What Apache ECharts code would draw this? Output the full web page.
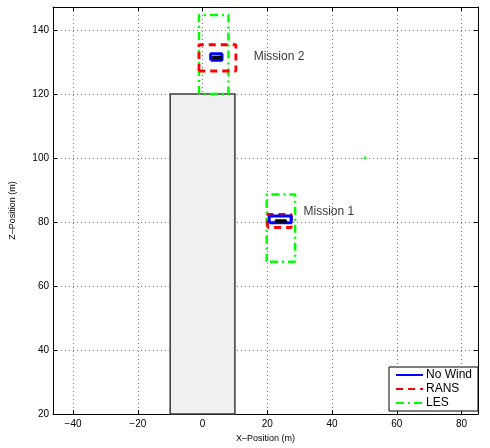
<!DOCTYPE html>
<html>
<head>
<meta charset="utf-8">
<script src="https://cdn.jsdelivr.net/npm/echarts@6/dist/echarts.min.js"></script>
<style>
  html, body { margin: 0; padding: 0; background: #fff; }
  #chart { width: 490px; height: 448px; }
</style>
</head>
<body>
<div id="chart"></div>
<script>
// Axis extents (m)
const xRange = [-46.2, 85.1];
const yRange = [20, 147.2];
const tickStep = 20;

// Building footprint: [xMin, xMax, zMin, zMax]
const building = [-10, 10, 20, 120];

// Mission envelopes per model: [xMin, xMax, zMin, zMax]
const noWindBoxes = [[2.5, 6.0, 130.6, 132.6], [20.6, 27.4, 79.8, 81.9]];
const ransBoxes = [[-1.1, 10.3, 127.2, 135.4], [20.1, 27.4, 78.3, 82.4]];
const lesBoxes = [[-1.1, 8.0, 120, 144.7], [19.8, 28.6, 67.6, 88.6]];

// Vehicle paths inside the no-wind envelopes: [[x0, z0], [x1, z1]]
const vehiclePaths = [[[3.4, 131.4], [5.6, 131.4]], [[22.8, 80.3], [25.6, 80.3]]];

// Isolated LES sample point
const lesPoint = [[50.2, 100]];

// Mission annotations
const missionNames = ['Mission 2', 'Mission 1'];
const missionAnchors = [[15.8, 131.7], [31.2, 83.2]];

const legendNames = ['No Wind', 'RANS', 'LES'];

function boxPath(b) {
  return [[b[0], b[2]], [b[0], b[3]], [b[1], b[3]], [b[1], b[2]], [b[0], b[2]]];
}

const minus = v => String(v).replace('-', '\u2212');
const font = 'Liberation Sans, Arial, Helvetica, sans-serif';

const gridLine = { show: true, lineStyle: { color: '#777', type: [1, 3], width: 1 } };
const axisLine = { show: true, onZero: false, lineStyle: { color: '#000', width: 1 } };
const tick = { show: true, inside: true, length: 4, lineStyle: { color: '#000' } };

function boxSeries(name, boxes, color, width, type) {
  return boxes.map(b => ({
    type: 'line', name: name, data: boxPath(b), symbol: 'none', silent: true,
    lineStyle: { color: color, width: width, type: type }, itemStyle: { color: color },
    animation: false, z: 3
  }));
}

const series = [];

series.push({
  type: 'custom', name: 'building', silent: true, animation: false, z: 1,
  data: [building],
  renderItem: function (params, api) {
    const p0 = api.coord([api.value(0), api.value(3)]);
    const p1 = api.coord([api.value(1), api.value(2)]);
    return {
      type: 'rect',
      shape: { x: p0[0], y: p0[1], width: p1[0] - p0[0], height: p1[1] - p0[1] },
      style: { fill: '#f0f0f0', stroke: '#3a3a3a', lineWidth: 1.5 }
    };
  },
  encode: { x: [0, 1], y: [2, 3] }
});

series.push(...boxSeries('LES', lesBoxes, '#00ff00', 2.5, [8, 4, 2, 4]));
series.push(...boxSeries('RANS', ransBoxes, '#ff0000', 2.8, [7, 5]));
series.push(...boxSeries('No Wind', noWindBoxes, '#0000ff', 3, 'solid'));

vehiclePaths.forEach(p => series.push({
  type: 'line', name: 'vehicle', data: p, symbol: 'none', silent: true, animation: false, z: 4,
  lineStyle: { color: '#000', width: 3.5, cap: 'round' }
}));

series.push({
  type: 'scatter', name: 'LES sample', data: lesPoint, symbol: 'rect', symbolSize: 3,
  itemStyle: { color: '#00ff00' }, silent: true, animation: false, z: 3
});

series.push({
  type: 'scatter', name: 'labels', silent: true, animation: false, z: 5,
  data: missionAnchors.map((a, i) => ({ value: a, name: missionNames[i] })),
  symbolSize: 0,
  label: {
    show: true, position: 'right', distance: 0, formatter: '{b}',
    color: '#000', fontSize: 12, fontFamily: font
  }
});

// The x extent is not a multiple of the tick step, so the step comes from
// splitNumber; ECharts then snaps ticks to multiples of 20 inside the extent.
const xAxisBase = { type: 'value', min: xRange[0], max: xRange[1], splitNumber: 7 };

const chart = echarts.init(document.getElementById('chart'), null, { renderer: 'canvas' });
chart.setOption({
  animation: false,
  backgroundColor: '#fff',
  grid: { left: 51, right: 12, top: 7, bottom: 26, containLabel: false },
  legend: {
    data: legendNames,
    orient: 'vertical',
    left: 389, top: 367,
    padding: [2, 6, 2, 6],
    itemWidth: 27, itemHeight: 14, itemGap: 2,
    itemStyle: { opacity: 0 },
    backgroundColor: '#fff', borderColor: '#000', borderWidth: 1, borderRadius: 0,
    selectedMode: false,
    textStyle: { fontSize: 12, fontFamily: font, color: '#000', padding: [0, 0, 0, -2] }
  },
  xAxis: [Object.assign({}, xAxisBase, {
    position: 'bottom',
    name: 'X\u2013Position (m)', nameLocation: 'middle', nameGap: 14,
    nameTextStyle: { fontSize: 9, fontFamily: font, color: '#000' },
    axisLine: axisLine, axisTick: tick, splitLine: gridLine,
    axisLabel: { color: '#000', fontSize: 10, fontFamily: font, margin: 5,
      showMinLabel: false, showMaxLabel: false, formatter: minus }
  }), Object.assign({}, xAxisBase, {
    position: 'top',
    axisLine: axisLine, axisTick: tick, splitLine: { show: false }, axisLabel: { show: false }
  })],
  yAxis: [{
    type: 'value', min: yRange[0], max: yRange[1], interval: tickStep, position: 'left',
    name: 'Z\u2013Position (m)', nameLocation: 'middle', nameGap: 36,
    nameTextStyle: { fontSize: 9, fontFamily: font, color: '#000' },
    axisLine: axisLine, axisTick: tick, splitLine: gridLine,
    axisLabel: { color: '#000', fontSize: 10, fontFamily: font, margin: 4,
      showMaxLabel: false, formatter: minus }
  }, {
    type: 'value', min: yRange[0], max: yRange[1], interval: tickStep, position: 'right',
    axisLine: axisLine, axisTick: tick, splitLine: { show: false }, axisLabel: { show: false }
  }],
  series: series
});
</script>
</body>
</html>
